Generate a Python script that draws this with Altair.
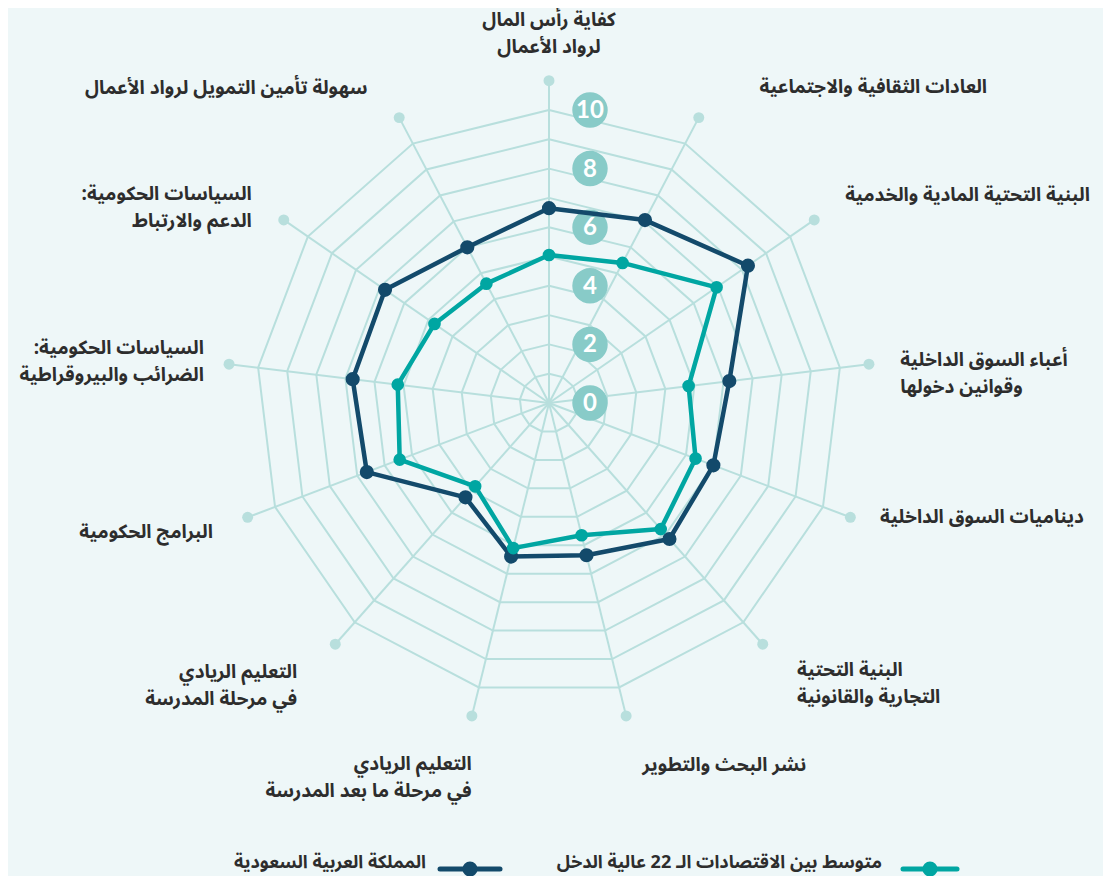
import altair as alt
import numpy as np
import pandas as pd

# ---------------- data ----------------
categories = [
    "كفاية رأس المال\nلرواد الأعمال",
    "العادات الثقافية والاجتماعية",
    "البنية التحتية المادية والخدمية",
    "أعباء السوق الداخلية\nوقوانين دخولها",
    "ديناميات السوق الداخلية",
    "البنية التحتية\nالتجارية والقانونية",
    "نشر البحث والتطوير",
    "التعليم الريادي\nفي مرحلة ما بعد المدرسة",
    "التعليم الريادي\nفي مرحلة المدرسة",
    "البرامج الحكومية",
    "السياسات الحكومية:\u200f\nالضرائب والبيروقراطية",
    "السياسات الحكومية:\u200f\nالدعم والارتباط",
    "سهولة تأمين التمويل لرواد الأعمال",
]
saudi = [6.65, 7.05, 8.25, 6.2, 6.0, 6.2, 5.35, 5.4, 4.3, 6.65, 6.75, 6.8, 6.0]
hi22 = [5.05, 5.4, 6.95, 4.8, 5.35, 5.75, 4.65, 5.1, 3.8, 5.45, 5.2, 4.75, 4.6]
series_names = ["المملكة العربية السعودية", "متوسط بين الاقتصادات الـ 22 عالية الدخل"]
scale_ticks = [0, 2, 4, 6, 8, 10]
ring_levels = list(range(1, 11))
spoke_max = 11

# ---------------- styling / layout ----------------
BG = "#eef7f8"
GRID = "#b8dfdd"
BADGE = "#88cbc8"
DARK = "#134a6b"
TEAL = "#00a6a2"
TXT = "#2d2d2d"
AR_FONT = "Noto Sans Arabic, Noto Kufi Arabic, DejaVu Sans"
LABEL_SIZE = 19
LINE_H = 27

W, H = 1095, 868
CX, CY = 541, 395          # centre in chart pixels
PPU = 29.3                 # pixels per unit
xdom = [-CX / PPU, (W - CX) / PPU]
ydom = [-(H - CY) / PPU, CY / PPU]
XS = alt.Scale(domain=xdom, nice=False, zero=False)
YS = alt.Scale(domain=ydom, nice=False, zero=False)
LABEL_R = 12.45
# small pixel nudges of the axis-label anchors (layout only)
LABEL_NUDGE = [(0, -5), (41, 7), (-4, -1), (-11, 14), (-10, -15), (6, 7), (6, 8),
               (10, 20), (-10, 9), (5, 0), (17, 2), (3, 12), (-12, 8)]

N = len(categories)
ang = np.arange(N) * 2 * np.pi / N

# rings
ring_rows = []
for lv in ring_levels:
    for k in range(N + 1):
        i = k % N
        ring_rows.append(dict(ring=lv, order=k, x=lv * np.sin(ang[i]), y=lv * np.cos(ang[i])))
rings = pd.DataFrame(ring_rows)

# spokes
spokes = pd.DataFrame(dict(
    x0=np.zeros(N), y0=np.zeros(N),
    x=spoke_max * np.sin(ang), y=spoke_max * np.cos(ang),
))

# series
def series_df(name, vals):
    rows = []
    for k in range(N + 1):
        i = k % N
        rows.append(dict(series=name, order=k, x=vals[i] * np.sin(ang[i]), y=vals[i] * np.cos(ang[i])))
    return pd.DataFrame(rows)

s_dark = series_df(series_names[0], saudi)
s_teal = series_df(series_names[1], hi22)

# labels (multi-line blocks are centred on their anchor)
sinv = np.sin(ang)
nlines = np.array([c.count("\n") + 1 for c in categories])
ndx = np.array([n[0] for n in LABEL_NUDGE]) / PPU
ndy = (np.array([n[1] for n in LABEL_NUDGE]) - (nlines - 1) * LINE_H / 2) / PPU
lab = pd.DataFrame(dict(
    label=categories,
    x=LABEL_R * sinv + ndx, y=LABEL_R * np.cos(ang) - ndy,
    side=np.where(sinv > 0.1, "left", np.where(sinv < -0.1, "right", "center")),
))

badges = pd.DataFrame(dict(v=scale_ticks, t=[str(v) for v in scale_ticks], x=[41 / PPU] * len(scale_ticks)))

X = lambda f="x": alt.X(f"{f}:Q", scale=XS, axis=None)
Y = lambda f="y": alt.Y(f"{f}:Q", scale=YS, axis=None)

ring_layer = alt.Chart(rings).mark_line(color=GRID, strokeWidth=2).encode(
    x=X(), y=Y(), detail="ring:N", order="order:Q")

spoke_layer = alt.Chart(spokes).mark_rule(color=GRID, strokeWidth=2).encode(
    x=X("x0"), y=Y("y0"), x2="x:Q", y2="y:Q")

spoke_dots = alt.Chart(spokes).mark_circle(color=GRID, size=120, opacity=1).encode(x=X(), y=Y())

badge_layer = alt.Chart(badges).mark_circle(color=BADGE, size=1257, opacity=1).encode(
    x=X(), y=Y("v"))
badge_text = alt.Chart(badges).mark_text(
    color="white", font="Lato", fontWeight="bold", fontSize=24, baseline="middle", dy=1
).encode(x=X(), y=Y("v"), text="t:N")

def series_layers(df, color, size):
    line = alt.Chart(df).mark_line(color=color, strokeWidth=4.5, strokeJoin="round").encode(
        x=X(), y=Y(), order="order:Q")
    pts = alt.Chart(df[df["order"] < N]).mark_circle(color=color, size=size, opacity=1).encode(x=X(), y=Y())
    return [line, pts]

label_layers = []
for side in ["left", "right", "center"]:
    label_layers.append(
        alt.Chart(lab[lab["side"] == side]).mark_text(
            align=side, baseline="middle", font=AR_FONT, fontSize=LABEL_SIZE, fontWeight="bold",
            color=TXT, lineBreak="\n", lineHeight=LINE_H
        ).encode(x=X(), y=Y(), text="label:N")
    )

# legend (manual, RTL: symbol to the right of the text)
legend_layers = []
one = pd.DataFrame({"a": [0]})
for name, color, lx0, lx1, tx in [
    (series_names[1], TEAL, 895, 949, 874),
    (series_names[0], DARK, 432, 492, 418),
]:
    legend_layers.append(alt.Chart(one).mark_rule(color=color, strokeWidth=5, strokeCap="round").encode(
        x=alt.value(lx0), x2=alt.value(lx1), y=alt.value(861)))
    legend_layers.append(alt.Chart(one).mark_circle(color=color, size=230, opacity=1).encode(
        x=alt.value((lx0 + lx1) / 2), y=alt.value(861)))
    legend_layers.append(alt.Chart(pd.DataFrame({"t": [name]})).mark_text(
        align="right", baseline="middle", font=AR_FONT, fontSize=18, fontWeight="bold", color=TXT
    ).encode(x=alt.value(tx), y=alt.value(855), text="t:N"))

chart = alt.layer(
    ring_layer, spoke_layer, spoke_dots, badge_layer, badge_text,
    *series_layers(s_dark, DARK, 200),
    *series_layers(s_teal, TEAL, 160),
    *label_layers,
    *legend_layers,
).properties(
    width=W, height=H,
    autosize=alt.AutoSizeParams(type="none"),
    padding=0,
    background=BG,
).configure_view(stroke=None)

chart.save("out.html", embed_options={"renderer": "svg", "actions": False})
